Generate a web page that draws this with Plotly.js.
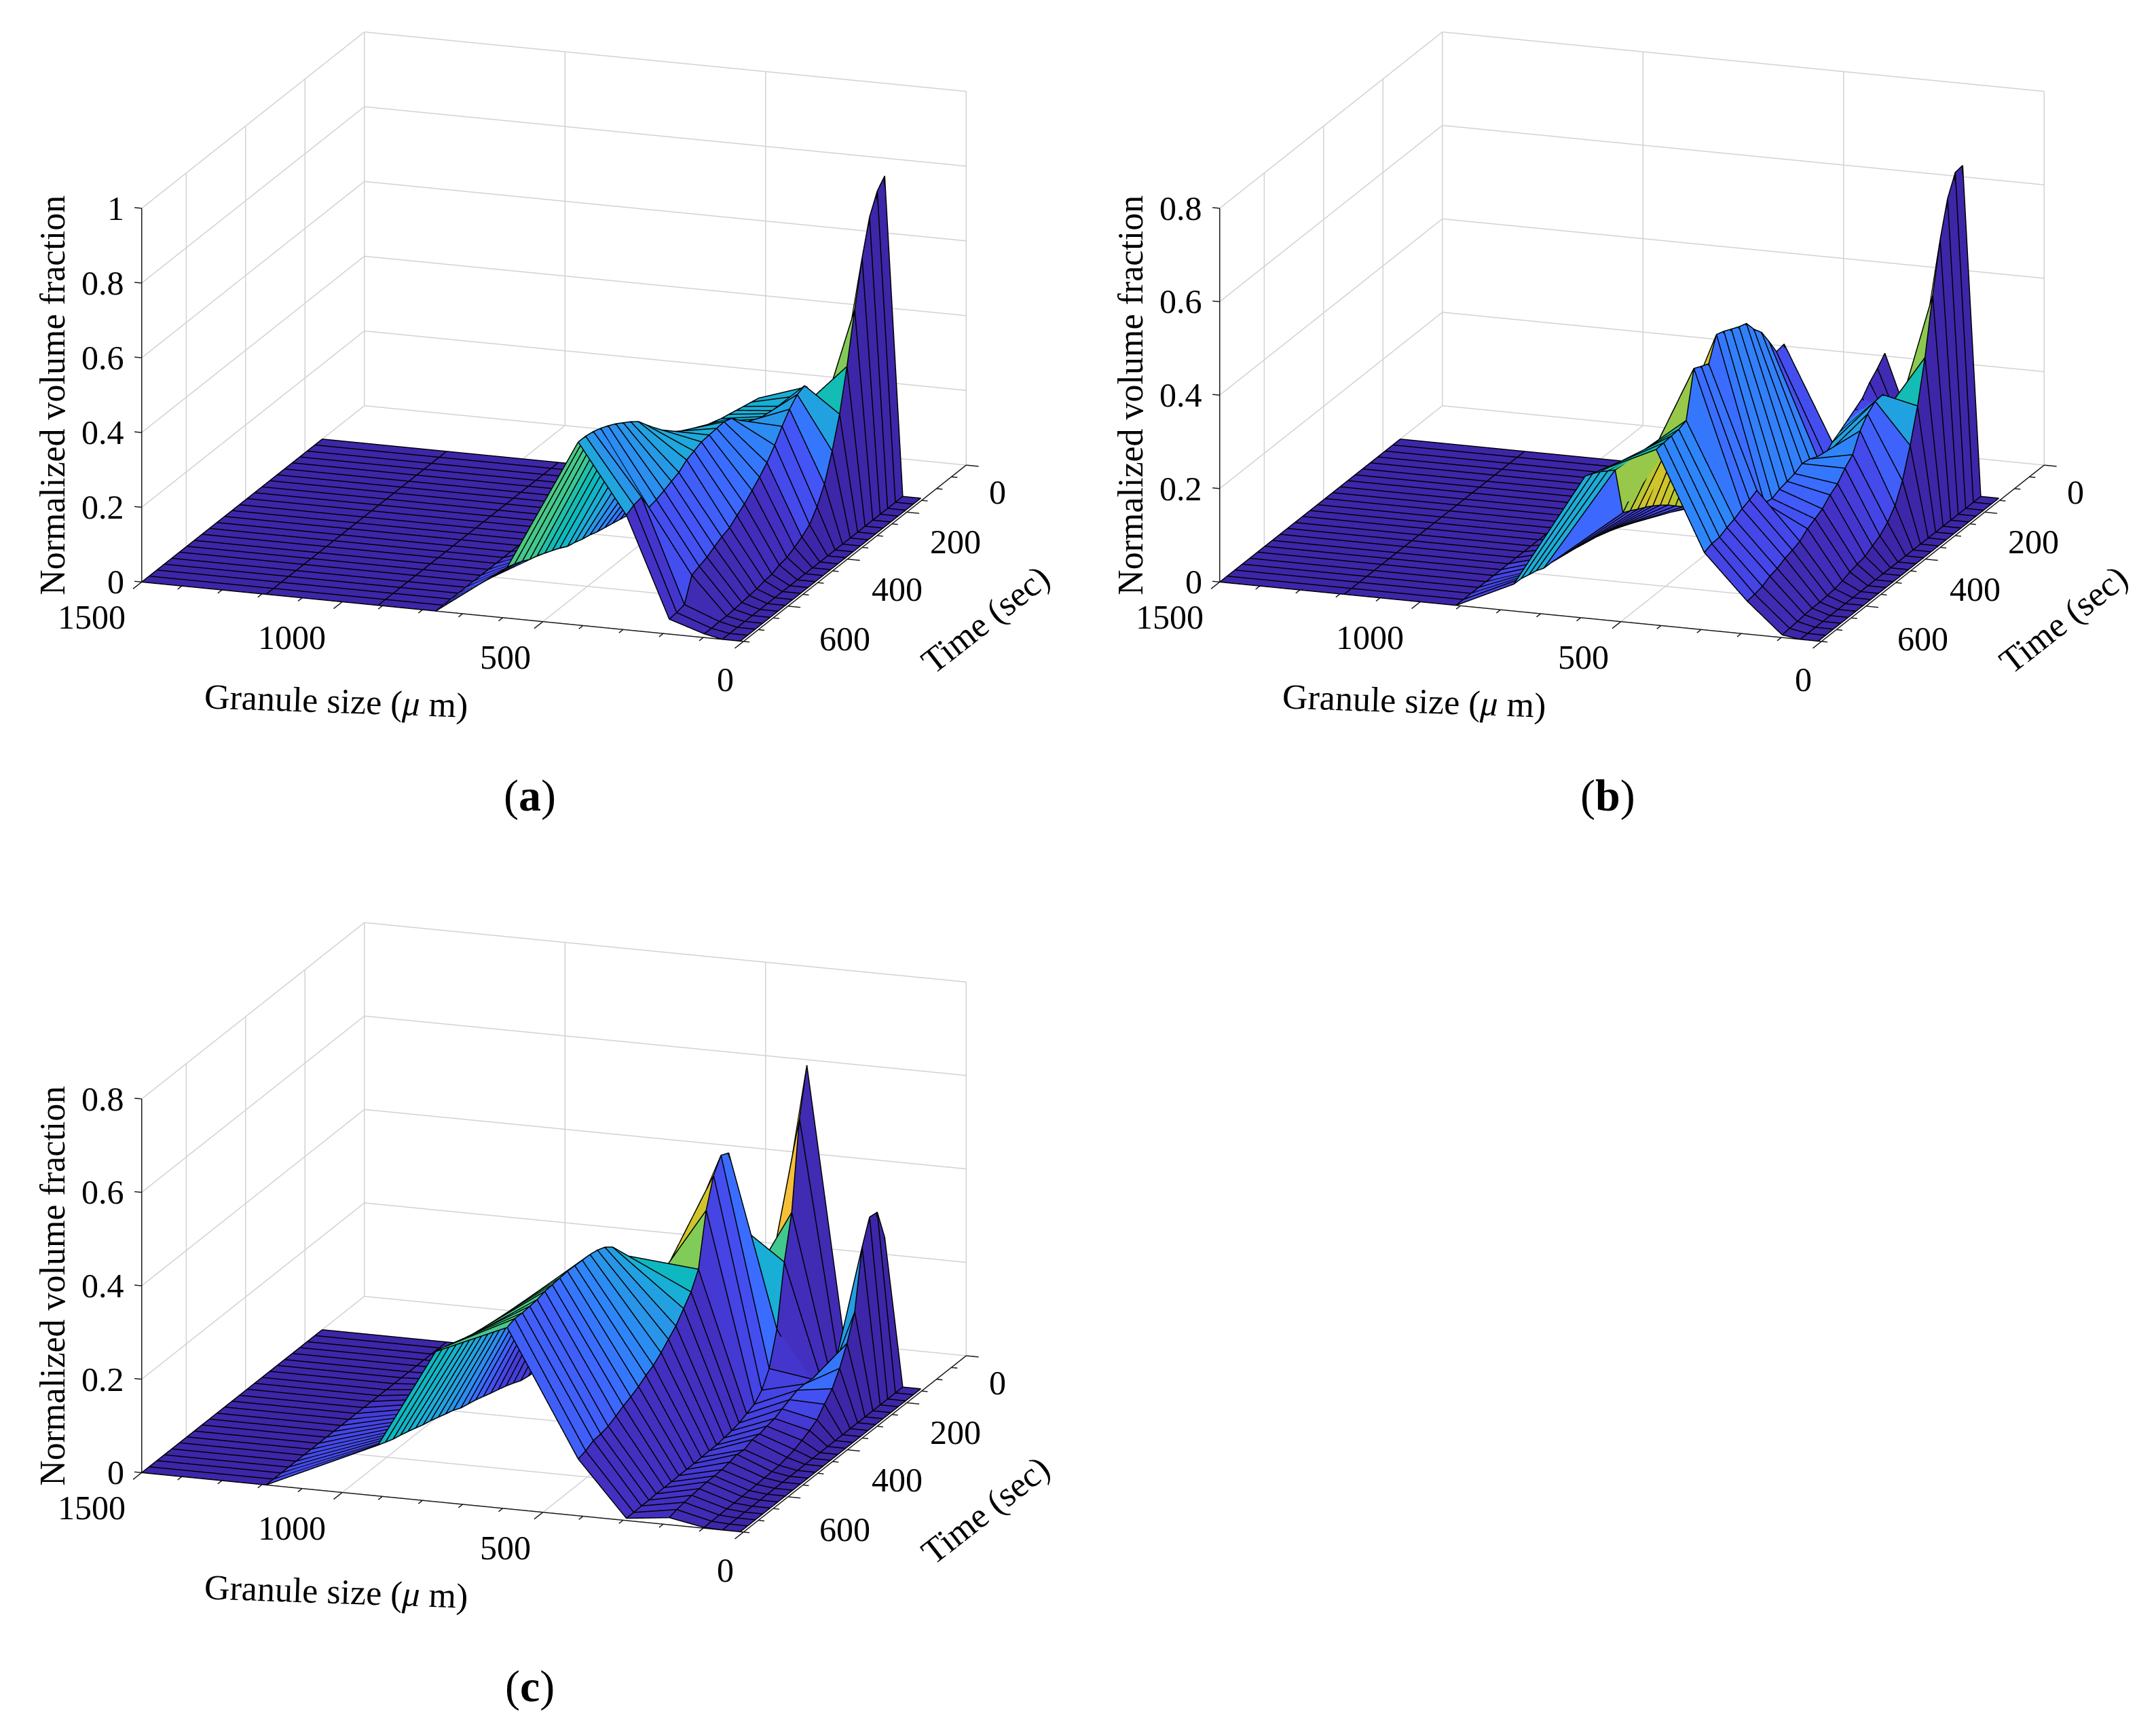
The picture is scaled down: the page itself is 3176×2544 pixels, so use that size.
<!DOCTYPE html>
<html><head><meta charset="utf-8">
<script src="https://cdn.plot.ly/plotly-3.0.1.min.js"></script>
<style>html,body{margin:0;background:#fff}#p{width:3176px;height:2544px}</style></head>
<body><div id="p"></div>
<script>
// Granule size columns (um) and time rows (s)
const granuleSizes=[8,53,98,185,292,412,589,767,911,1190,1500];
const timeSteps=[142,167,193,218,243,269,294,319,345,370,395,421,446,471,497,522,547,573,598,623,649,674,699,725,750];
const flatRow=[0,0,0,0,0,0,0,0,0,0,0,0,0,0,0,0,0,0,0,0,0,0,0,0,0];
const dark=[0,0,0,0,0,0,0,0,0,0,0,0,0,0,0,0,0,0,0,0,0,0,0,0];

// Panel (a): height as a fraction of the z axis top, one column per granule size
const aX98=[.853,.828,.775,.682,.559,.423,.311,.228,.156,.111,.079,.062,.05,.039,.035,.026,.024,.019,.017,.014,.012,.01,.011,.009,.01];
const aX185=[.02,.03,.06,.12,.25,.329,.378,.37,.347,.317,.282,.252,.229,.209,.189,.174,.157,.149,.138,.126,.118,.11,.047,.042,.04];
const aX292=[.268,.26,.248,.252,.26,.269,.278,.286,.302,.322,.343,.35,.348,.346,.344,.335,.327,.31,.302,.293,.285,.28,.323,.318,.307];
const aX412=[.225,.23,.235,.24,.245,.25,.257,.264,.274,.284,.297,.31,.326,.347,.37,.393,.417,.433,.446,.459,.47,.479,.486,.49,.49];
const aX589=[0,.001,.002,.004,.006,.009,.012,.016,.02,.025,.03,.035,.04,.047,.052,.059,.064,.076,.085,.094,.103,.109,.12,.129,.136];
const aBand2=[.8,.78,.75,.72,.66,.47,.33,.22,.15,.13,.12,.06,.04,.03,.03,.03,.03,.02,.02,.02,.02,.02,.02,.02];
const aBand3=[.5,.5,.5,.45,.42,.38,.35,.33,.3,.27,.24,.22,.22,.2,.19,.18,.17,.16,.15,.14,.13,.13,.06,.05];
const aBand4=[.38,.38,.38,.38,.38,.38,.38,.38,.38,.38,.38,.37,.37,.35,.35,.35,.33,.31,.3,.28,.27,.27,.3,.34];
const aBand5=[.15,.15,.15,.15,.15,.16,.16,.17,.18,.2,.22,.25,.27,.3,.35,.38,.42,.45,.47,.5,.54,.55,.56,.57];
const aBand6=[.05,.05,.05,.05,.05,.05,.05,.05,.05,.05,.05,.05,.05,.05,.05,.05,.1,.1,.12,.13,.13,.14,.14,.14];

// Panel (b)
const bX98=[.881,.878,.824,.73,.597,.447,.333,.243,.165,.114,.085,.065,.054,.042,.037,.032,.024,.019,.017,.015,.015,.013,.011,.009,.007];
const bX185=[.05,.06,.08,.13,.27,.31,.354,.352,.334,.305,.257,.237,.211,.197,.176,.165,.154,.137,.129,.123,.112,.107,.096,.091,.088];
const bX292=[.358,.333,.312,.285,.271,.257,.243,.231,.211,.224,.234,.238,.227,.222,.217,.208,.212,.262,.252,.244,.233,.226,.216,.215,.207];
const bX412=[.02,.02,.02,.03,.03,.03,.05,.481,.477,.52,.56,.585,.616,.623,.633,.643,.65,.588,.597,.607,.484,.476,.474,.472,.47];
const bX589=[0,.005,.01,.015,.02,.025,.03,.04,.05,.06,.075,.091,.109,.127,.143,.157,.169,.18,.192,.202,.333,.346,.36,.371,.38];
const bX767=[0,0,0,0,0,0,0,0,0,0,.002,.01,.017,.023,.029,.033,.038,.042,.046,.05,.051,.06,.065,.071,.072];
const bBand2=[.8,.78,.75,.7,.68,.47,.33,.18,.17,.12,.1,.08,.06,.05,.03,.03,.03,.02,.02,.02,.02,.02,.02,.02];
const bBand3=[.02,.03,.06,.1,.15,.25,.33,.33,.32,.25,.24,.22,.2,.18,.16,.14,.13,.11,.11,.11,.11,.11,.1,.1];
const bBand4=[.13,.13,.13,.13,.13,.13,.13,.13,.13,.24,.24,.24,.24,.24,.24,.22,.2,.21,.2,.22,.25,.25,.25,.25];
const bBand5=[.7,.7,.7,.7,.7,.7,.7,.7,.7,.7,.72,.74,.76,.78,.8,.8,.8,.76,.72,.7,.5,.48,.46,.46];
const bBand6=[.1,.1,.1,.1,.1,.1,.1,.1,.1,.1,.1,.1,.1,.1,.1,.1,.1,.1,.1,.19,.37,.37,.37,.37];
const bBand7=[.03,.03,.03,.03,.03,.03,.03,.03,.03,.03,.03,.03,.03,.03,.03,.03,.03,.1,.1,.1,.1,.1,.1,.1];

// Panel (c)
const cX98=[.396,.479,.482,.418,.26,.192,.141,.102,.077,.051,.038,.028,.019,.014,.009,.008,.007,.006,.005,.005,.004,.004,.003,.003,.002];
const cX185=[.002,.002,.003,.004,.006,.087,.09,.089,.08,.071,.061,.057,.052,.052,.042,.045,.04,.036,.035,.035,.033,.031,.028,.025,.019];
const cX292=[.836,.709,.474,.357,.193,.104,.062,.04,.031,.022,.017,.014,.011,.011,.01,.009,.009,.009,.008,.008,.008,.007,.007,.006,.006];
const cX412=[.02,.02,.244,.449,.652,.662,.624,.546,.405,.36,.331,.301,.281,.261,.243,.232,.218,.207,.198,.187,.176,.171,.169,.158,.152];
const cX589=[.1,.12,.14,.16,.18,.2,.23,.26,.422,.45,.477,.493,.501,.505,.506,.507,.508,.506,.504,.502,.496,.494,.492,.493,.485];
const cX767=[.27,.28,.29,.3,.31,.32,.33,.335,.338,.34,.342,.344,.347,.35,.353,.355,.358,.362,.366,.37,.373,.382,.39,.397,.402];
const cX911=[0,0,0,0,.002,.006,.015,.023,.03,.036,.043,.05,.055,.06,.07,.076,.083,.09,.095,.102,.109,.115,.12,.128,.136];
const cBand2=[.36,.34,.33,.32,.28,.22,.2,.14,.1,.07,.04,.03,.03,.02,.02,.02,.02,.02,.02,.02,.02,.02,.02,.02];
const cBand3=[.02,.02,.03,.04,.06,.09,.1,.1,.09,.09,.09,.09,.09,.08,.08,.07,.07,.06,.06,.05,.05,.04,.04,.04];
const cBand4=[.87,.87,.55,.38,.2,.13,.1,.07,.04,.04,.04,.04,.04,.04,.04,.04,.04,.04,.04,.04,.04,.04,.04,.04];
const cBand5=[.85,.85,.85,.85,.85,.85,.8,.66,.44,.38,.33,.3,.3,.27,.25,.24,.22,.2,.19,.17,.17,.17,.17,.17];
const cBand6=[.56,.56,.56,.56,.56,.56,.56,.56,.56,.56,.56,.56,.56,.56,.56,.56,.56,.56,.56,.56,.56,.56,.56,.56];
const cBand7=[.08,.08,.08,.08,.08,.08,.08,.08,.11,.14,.17,.2,.24,.27,.3,.32,.33,.35,.37,.39,.41,.42,.43,.44];
const cBand8=[.02,.02,.02,.02,.02,.02,.02,.02,.02,.02,.05,.07,.08,.09,.1,.1,.11,.11,.12,.12,.12,.12,.12,.12];

// Axis ticks
const xMajor=[0,500,1000,1500], xMinor=[100,200,300,400,600,700,800,900,1100,1200,1300,1400];
const tMajor=[0,200,400,600], tMinor=[50,100,150,250,300,350,450,500,550,650,700,750];
const tMax=750;
const zTicksA=[0,.2,.4,.6,.8,1], zTicksB=[0,.2,.4,.6,.8];

const parula=[[0,'#3e26a8'],[.05,'#4433c8'],[.1,'#4545e6'],[.15,'#4455f5'],[.2,'#3a6eff'],[.25,'#2e86f8'],[.3,'#2796e8'],[.35,'#1fa8dc'],[.4,'#16b2d0'],[.45,'#0bbabc'],[.5,'#20c0a8'],[.55,'#40c890'],[.6,'#5cc874'],[.65,'#7ccb5c'],[.7,'#98c848'],[.75,'#b4c634'],[.8,'#cfc42c'],[.85,'#f0bd38'],[.9,'#fdc538'],[1,'#f9fb15']];

const font='"Liberation Serif", "Times New Roman", serif';
const data=[], layout={width:3176,height:2544,margin:{l:0,r:0,t:0,b:0},paper_bgcolor:'#fff',showlegend:false,annotations:[]};
const W=3176,H=2544;
const eyeLen=4, dir=[-.3197,.9053,.2796];
const asp={x:2.021,y:2.225,z:1.217};

function panel(id,cx,cy,cols,bands,zTop,zTicks,label,lx,ly){
  const sc='scene'+id;
  const nc=granuleSizes.length,nr=timeSteps.length;
  const zc=cols.map(c=>c.map(u=>u*zTop));
  // slide a line along the view direction: it keeps its place on the screen but moves in front of (+) or behind (-) the surface
  const eps=.012;
  const off=[dir[0]*eps*1580/asp.x,dir[1]*eps*830/asp.y,dir[2]*eps*1.04*zTop/asp.z];
  const X=[],Y=[],Z=[],I=[],J=[],K=[],C=[];
  for(let c=0;c<nc;c++)for(let r=0;r<nr;r++){X.push(granuleSizes[c]);Y.push(timeSteps[r]);Z.push(zc[c][r]);}
  const idx=(c,r)=>c*nr+r;
  for(let c=0;c<nc-1;c++)for(let r=0;r<nr-1;r++){
    I.push(idx(c,r),idx(c+1,r));J.push(idx(c+1,r),idx(c+1,r+1));K.push(idx(c,r+1),idx(c,r+1));
    C.push(bands[c][r],bands[c][r]);
  }
  data.push({type:'mesh3d',scene:sc,x:X,y:Y,z:Z,i:I,j:J,k:K,intensity:C,intensitymode:'cell',colorscale:parula,cmin:0,cmax:1,showscale:false,flatshading:true,hoverinfo:'skip',
    lighting:{ambient:1,diffuse:0,specular:0,roughness:1,fresnel:0}});
  const lx3=[],ly3=[],lz3=[];
  const push=(c,r)=>{lx3.push(granuleSizes[c]+off[0]);ly3.push(timeSteps[r]+off[1]);lz3.push(zc[c][r]+off[2]);};
  const gap=()=>{lx3.push(null);ly3.push(null);lz3.push(null);};
  for(let c=0;c<nc;c++){for(let r=0;r<nr;r++)push(c,r);gap();}
  for(let r=0;r<nr;r++){for(let c=0;c<nc;c++)push(c,r);gap();}
  data.push({type:'scatter3d',scene:sc,mode:'lines',x:lx3,y:ly3,z:lz3,line:{color:'#000000',width:3},hoverinfo:'skip'});
  const gx=[],gy=[],gz=[];
  const seg=(A,B,ax,ay,az)=>{ax.push(A[0],B[0],null);ay.push(A[1],B[1],null);az.push(A[2],B[2],null);};
  const gseg=(A,B)=>seg([A[0]-off[0],A[1]-off[1],A[2]-off[2]],[B[0]-off[0],B[1]-off[1],B[2]-off[2]],gx,gy,gz);
  for(const v of zTicks){gseg([0,0,v],[1500,0,v]);gseg([1500,0,v],[1500,tMax,v]);}
  for(const v of xMajor){gseg([v,0,0],[v,0,zTop]);gseg([v,0,0],[v,tMax,0]);}
  for(const v of tMajor){gseg([1500,v,0],[1500,v,zTop]);gseg([0,v,0],[1500,v,0]);}
  data.push({type:'scatter3d',scene:sc,mode:'lines',x:gx,y:gy,z:gz,line:{color:'#d2d2d2',width:3},hoverinfo:'skip'});
  const ax=[],ay=[],az=[];
  seg([0,tMax,0],[1500,tMax,0],ax,ay,az);seg([0,0,0],[0,tMax,0],ax,ay,az);seg([1500,tMax,0],[1500,tMax,zTop],ax,ay,az);
  for(const v of xMajor)seg([v,tMax,0],[v,tMax+29,0],ax,ay,az);
  for(const v of xMinor)seg([v,tMax,0],[v,tMax+14,0],ax,ay,az);
  for(const v of tMajor)seg([0,v,0],[-31,v,0],ax,ay,az);
  for(const v of tMinor)seg([0,v,0],[-15,v,0],ax,ay,az);
  for(const v of zTicks)seg([1500,tMax,v],[1518,tMax,v],ax,ay,az);
  data.push({type:'scatter3d',scene:sc,mode:'lines',x:ax,y:ay,z:az,line:{color:'#1a1a1a',width:3},hoverinfo:'skip'});
  const ann=[];const f=s=>({family:font,size:s,color:'#000'});
  const xShift={0:-12,500:-16,1000:-22,1500:-22}, xRaise={0:-56,500:-52,1000:-52,1500:-52}, tRaise={0:-40,200:-44,400:-44,600:-48}, tShift={0:32,200:32,400:34,600:44};
  for(const v of xMajor)ann.push({x:v,y:tMax,z:0,text:String(v),showarrow:false,xanchor:'right',yanchor:'middle',xshift:xShift[v],yshift:xRaise[v],font:f(50)});
  for(const v of tMajor)ann.push({x:0,y:v,z:0,text:String(v),showarrow:false,xanchor:'left',yanchor:'middle',xshift:tShift[v],yshift:tRaise[v],font:f(50)});
  for(const v of zTicks)ann.push({x:1500,y:tMax,z:v,text:String(v),showarrow:false,xanchor:'right',yanchor:'middle',xshift:-24,yshift:0,font:f(50)});
  ann.push({x:750,y:tMax,z:0,text:'Granule size (<i>\u03bc</i> m)',showarrow:false,xshift:-156,yshift:-132,textangle:2,font:f(52)});
  ann.push({x:0,y:360,z:0,text:'Time (sec)',showarrow:false,xshift:186,yshift:-103,textangle:-38,font:f(52)});
  ann.push({x:1500,y:tMax,z:zTop/2,text:'Normalized volume fraction',showarrow:false,xshift:-132,yshift:0,textangle:-90,font:f(52)});
  const hw=750,hh=490;
  layout[sc]={domain:{x:[(cx-hw)/W,(cx+hw)/W],y:[1-(cy+hh)/H,1-(cy-hh)/H]},
    xaxis:{visible:false,range:[-40,1540]},yaxis:{visible:false,range:[-40,790]},zaxis:{visible:false,range:[-.02*zTop,1.02*zTop]},
    aspectmode:'manual',aspectratio:asp,bgcolor:'#fff',
    camera:{projection:{type:'orthographic'},up:{x:0,y:0,z:1},center:{x:0,y:0,z:0},eye:{x:dir[0]*eyeLen,y:dir[1]*eyeLen,z:dir[2]*eyeLen}},
    annotations:ann};
  layout.annotations.push({xref:'paper',yref:'paper',x:lx/W,y:1-ly/H,xanchor:'center',yanchor:'middle',text:label,showarrow:false,font:{family:font,size:66,color:'#000'}});
}
panel('',816,496,[flatRow,flatRow,aX98,aX185,aX292,aX412,aX589,flatRow,flatRow,flatRow,flatRow],[dark,dark,aBand2,aBand3,aBand4,aBand5,aBand6,dark,dark,dark],1,zTicksA,'(<b>a</b>)',780,1172);
panel('2',2404,496,[flatRow,flatRow,bX98,bX185,bX292,bX412,bX589,bX767,flatRow,flatRow,flatRow],[dark,dark,bBand2,bBand3,bBand4,bBand5,bBand6,bBand7,dark,dark],.8,zTicksB,'(<b>b</b>)',2368,1172);
panel('3',816,1808,[flatRow,flatRow,cX98,cX185,cX292,cX412,cX589,cX767,cX911,flatRow,flatRow],[dark,dark,cBand2,cBand3,cBand4,cBand5,cBand6,cBand7,cBand8,dark],.8,zTicksB,'(<b>c</b>)',780,2484);
Plotly.newPlot('p',data,layout,{displayModeBar:false});
</script></body></html>
